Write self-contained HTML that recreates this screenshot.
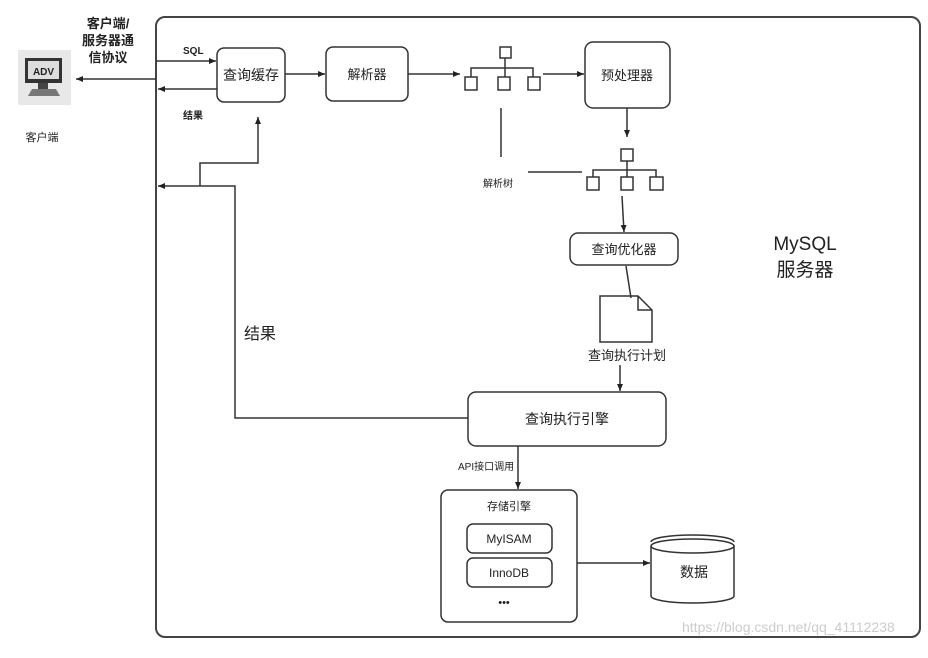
<!DOCTYPE html>
<html><head><meta charset="utf-8"><style>
body{margin:0;background:#fff;width:928px;height:653px;overflow:hidden}
text{font-family:"Liberation Sans","Noto Sans CJK SC",sans-serif;fill:#222}
</style></head><body>
<svg width="928" height="653" viewBox="0 0 928 653" xmlns="http://www.w3.org/2000/svg">
<defs><marker id="a" markerWidth="8" markerHeight="8" refX="7" refY="4" orient="auto" markerUnits="userSpaceOnUse"><path d="M0,1 L7,4 L0,7 z" fill="#222"/></marker></defs>
<g fill="none" stroke="#444" stroke-width="1.5">
<rect x="156" y="17" width="764" height="620" rx="9" stroke-width="2"/>
</g>
<!-- client icon -->
<rect x="18" y="50" width="53" height="55" fill="#e8e8e8"/>
<rect x="25" y="58" width="37" height="25" fill="#333"/>
<rect x="28" y="61" width="31" height="18" fill="#ddd"/>
<text x="43.5" y="75" font-size="10" font-weight="bold" text-anchor="middle" fill="#333">ADV</text>
<rect x="38" y="83" width="10" height="6" fill="#444"/>
<path d="M28,96 L32,89 L56,89 L60,96 z" fill="#777"/>
<text x="42" y="141" font-size="11" text-anchor="middle">客户端</text>
<text x="108" y="28" font-size="13" font-weight="bold" text-anchor="middle">客户端/</text>
<text x="108" y="45" font-size="13" font-weight="bold" text-anchor="middle">服务器通</text>
<text x="108" y="62" font-size="13" font-weight="bold" text-anchor="middle">信协议</text>
<g fill="none" stroke="#333" stroke-width="1.5">
<line x1="156" y1="79" x2="76" y2="79" marker-end="url(#a)"/>
<line x1="156" y1="61" x2="216" y2="61" marker-end="url(#a)"/>
<line x1="217" y1="89" x2="158" y2="89" marker-end="url(#a)"/>
<polyline points="200,186 200,163 258,163 258,117" marker-end="url(#a)"/>
<polyline points="468,418 235,418 235,186 158,186" marker-end="url(#a)"/>
<line x1="285" y1="74" x2="325" y2="74" marker-end="url(#a)"/>
<line x1="408" y1="74" x2="460" y2="74" marker-end="url(#a)"/>
<line x1="543" y1="74" x2="584" y2="74" marker-end="url(#a)"/>
<line x1="627" y1="108" x2="627" y2="137" marker-end="url(#a)"/>
<line x1="501" y1="108" x2="501" y2="157"/>
<line x1="528" y1="172" x2="582" y2="172"/>
<line x1="622" y1="196" x2="624" y2="232" marker-end="url(#a)"/>
<line x1="626" y1="266" x2="631" y2="298"/>
<line x1="620" y1="365" x2="620" y2="391" marker-end="url(#a)"/>
<line x1="518" y1="446" x2="518" y2="489" marker-end="url(#a)"/>
<line x1="577" y1="563" x2="650" y2="563" marker-end="url(#a)"/>
<rect x="217" y="48" width="68" height="54" rx="7"/>
<rect x="326" y="47" width="82" height="54" rx="7"/>
<rect x="585" y="42" width="85" height="66" rx="8"/>
<rect x="570" y="233" width="108" height="32" rx="8"/>
<rect x="468" y="392" width="198" height="54" rx="8"/>
<rect x="441" y="490" width="136" height="132" rx="7"/>
<rect x="467" y="524" width="85" height="29" rx="6"/>
<rect x="467" y="558" width="85" height="29" rx="6"/>
<!-- tree1 -->
<rect x="500" y="47" width="11" height="11"/>
<polyline points="471,77 471,68 533,68 533,77"/><line x1="505" y1="58" x2="505" y2="77"/>
<rect x="465" y="77" width="12" height="13"/><rect x="498" y="77" width="12" height="13"/><rect x="528" y="77" width="12" height="13"/>
<!-- tree2 -->
<rect x="621" y="149" width="12" height="12"/>
<polyline points="593,177 593,170 656,170 656,177"/><line x1="627" y1="161" x2="627" y2="177"/>
<rect x="587" y="177" width="12" height="13"/><rect x="621" y="177" width="12" height="13"/><rect x="650" y="177" width="13" height="13"/>
<!-- doc -->
<path d="M600,296 L638,296 L652,310 L652,342 L600,342 z M638,296 L638,310 L652,310"/>
<!-- cylinder -->
<path d="M651,546 L651,596 A41.5,7 0 0 0 734,596 L734,546"/>
<ellipse cx="692.5" cy="546" rx="41.5" ry="7"/>
<path d="M651,542 A41.5,7 0 0 1 734,542"/>
</g>
<text x="183" y="54" font-size="10" font-weight="bold">SQL</text>
<text x="183" y="119" font-size="10" font-weight="bold">结果</text>
<text x="251" y="80" font-size="14" text-anchor="middle">查询缓存</text>
<text x="367" y="79" font-size="13" text-anchor="middle">解析器</text>
<text x="627" y="80" font-size="13" text-anchor="middle">预处理器</text>
<text x="498" y="187" font-size="10" text-anchor="middle">解析树</text>
<text x="624" y="254" font-size="13" text-anchor="middle">查询优化器</text>
<text x="627" y="360" font-size="13" text-anchor="middle">查询执行计划</text>
<text x="567" y="424" font-size="14" text-anchor="middle">查询执行引擎</text>
<text x="260" y="339" font-size="16" text-anchor="middle">结果</text>
<text x="458" y="470" font-size="10">API接口调用</text>
<text x="509" y="510" font-size="11" text-anchor="middle">存储引擎</text>
<text x="509" y="543" font-size="12" text-anchor="middle">MyISAM</text>
<text x="509" y="577" font-size="12" text-anchor="middle">InnoDB</text>
<text x="504" y="606" font-size="11" text-anchor="middle">•••</text>
<text x="694" y="577" font-size="14" text-anchor="middle">数据</text>
<text x="805" y="250" font-size="19" text-anchor="middle">MySQL</text>
<text x="805" y="276" font-size="19" text-anchor="middle">服务器</text>
<text x="682" y="632" font-size="14" style="fill:#ccc">https://blog.csdn.net/qq_41112238</text>
</svg>
</body></html>
